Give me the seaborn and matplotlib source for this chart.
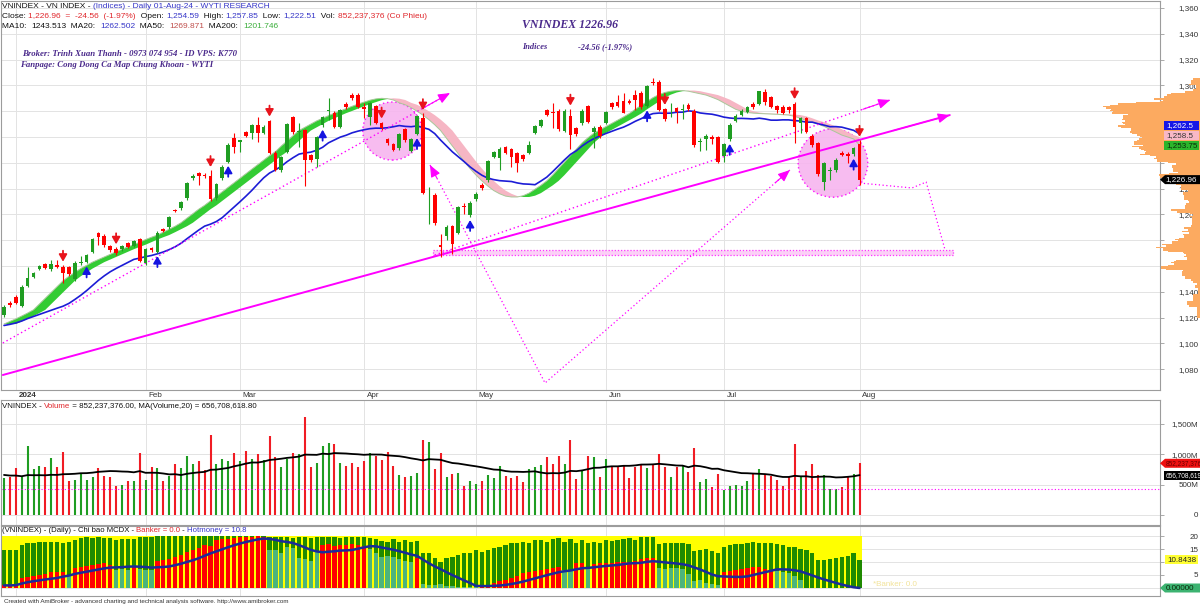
import numpy as np
import pandas as pd
import matplotlib
matplotlib.use("Agg")
import matplotlib.pyplot as plt
import seaborn as sns
from matplotlib.patches import Ellipse, Rectangle, Polygon
from matplotlib.transforms import ScaledTranslation

# ---------------------------------------------------------------- data
holidays = ["2024-01-01", "2024-02-08", "2024-02-09", "2024-02-12", "2024-02-13",
            "2024-02-14", "2024-04-18", "2024-04-29", "2024-04-30", "2024-05-01"]
dates = pd.bdate_range("2023-12-28", "2024-08-01")
dates = dates[~dates.isin(pd.to_datetime(holidays))]

open_ = [1122.0, 1131.6, 1136.2, 1129.0, 1144.5, 1151.7, 1158.0, 1161.3, 1157.4, 1160.8,
         1159.5, 1159.0, 1149.6, 1162.0, 1163.3, 1171.1, 1185.3, 1183.5, 1175.5, 1173.2,
         1172.9, 1177.6, 1175.5, 1180.7, 1162.6, 1173.7, 1171.1, 1188.4, 1189.9, 1203.3,
         1204.7, 1212.4, 1228.0, 1231.8, 1230.8, 1230.0, 1212.5, 1228.0, 1240.9, 1259.0,
         1256.5, 1264.1, 1262.9, 1269.3, 1262.9, 1272.7, 1247.9, 1234.4, 1248.6, 1275.3,
         1263.6, 1265.4, 1246.1, 1243.0, 1269.3, 1280.5, 1278.9, 1268.0, 1285.6, 1292.6,
         1292.6, 1283.0, 1275.8, 1284.0, 1271.0, 1258.2, 1254.6, 1251.2, 1266.0, 1249.4,
         1262.3, 1274.5, 1215.5, 1215.0, 1176.2, 1183.2, 1191.0, 1185.8, 1206.5, 1199.5,
         1211.6, 1222.7, 1226.6, 1244.7, 1243.4, 1251.9, 1250.4, 1247.3, 1246.0, 1247.8,
         1263.3, 1268.8, 1280.9, 1278.8, 1280.4, 1264.9, 1276.2, 1266.7, 1270.6, 1284.0,
         1264.1, 1268.0, 1271.1, 1286.0, 1287.3, 1288.1, 1288.1, 1292.5, 1294.3, 1284.0,
         1302.5, 1302.9, 1281.5, 1280.6, 1282.5, 1281.0, 1284.8, 1280.4, 1256.0, 1258.2,
         1260.3, 1259.8, 1245.3, 1258.2, 1272.7, 1277.1, 1279.6, 1285.6, 1285.6, 1295.2,
         1290.8, 1284.0, 1283.5, 1283.0, 1285.6, 1270.6, 1274.5, 1260.8, 1255.6, 1225.4,
         1233.6, 1234.4, 1247.3, 1246.5, 1246.8, 1254.59]
high_ = [1130.0, 1133.0, 1137.5, 1145.0, 1159.5, 1155.5, 1161.0, 1162.5, 1165.0, 1165.0,
         1161.0, 1160.0, 1163.5, 1167.5, 1169.5, 1182.0, 1186.5, 1184.5, 1176.5, 1174.5,
         1176.5, 1178.5, 1180.5, 1181.5, 1174.0, 1175.0, 1187.0, 1189.5, 1199.0, 1204.0,
         1210.0, 1225.0, 1231.0, 1233.0, 1232.0, 1234.4, 1224.5, 1238.0, 1255.0, 1263.4,
         1258.0, 1265.0, 1270.0, 1275.8, 1269.0, 1273.5, 1249.0, 1245.0, 1271.0, 1276.5,
         1270.6, 1266.5, 1247.0, 1260.5, 1276.0, 1290.0, 1280.0, 1282.0, 1287.0, 1294.0,
         1294.0, 1286.0, 1287.5, 1285.0, 1272.0, 1259.5, 1255.5, 1263.0, 1267.0, 1259.0,
         1277.0, 1278.5, 1221.5, 1216.5, 1184.7, 1191.5, 1192.0, 1206.5, 1208.5, 1210.5,
         1217.0, 1224.0, 1242.5, 1249.5, 1252.5, 1253.0, 1251.5, 1248.5, 1247.0, 1257.1,
         1269.5, 1274.0, 1282.0, 1286.0, 1281.5, 1281.5, 1282.0, 1268.0, 1281.5, 1285.0,
         1268.5, 1269.0, 1280.5, 1287.0, 1292.5, 1293.8, 1289.5, 1296.4, 1296.0, 1300.5,
         1305.5, 1304.0, 1282.5, 1286.1, 1283.5, 1285.6, 1286.0, 1281.5, 1259.0, 1262.0,
         1261.5, 1261.0, 1255.5, 1270.5, 1277.5, 1281.5, 1284.0, 1287.0, 1296.0, 1297.0,
         1292.0, 1285.0, 1284.5, 1284.0, 1287.0, 1275.5, 1275.5, 1262.0, 1256.5, 1240.5,
         1237.0, 1243.5, 1249.0, 1248.0, 1252.5, 1257.85]
low_ = [1120.5, 1128.5, 1130.5, 1128.0, 1143.5, 1150.5, 1157.0, 1157.5, 1156.5, 1158.5,
        1147.0, 1152.5, 1148.5, 1161.0, 1162.0, 1170.0, 1176.3, 1175.0, 1171.0, 1168.5,
        1172.0, 1174.0, 1174.5, 1163.0, 1161.0, 1171.0, 1170.0, 1186.0, 1189.0, 1201.5,
        1203.5, 1211.5, 1227.0, 1222.8, 1228.5, 1210.5, 1211.5, 1227.0, 1240.0, 1247.3,
        1248.6, 1260.0, 1258.2, 1256.4, 1262.0, 1246.5, 1233.5, 1232.8, 1247.5, 1262.5,
        1252.5, 1222.0, 1241.0, 1236.5, 1268.0, 1273.2, 1267.0, 1267.0, 1282.0, 1289.0,
        1282.5, 1274.5, 1269.3, 1270.0, 1265.5, 1254.0, 1249.0, 1250.0, 1256.5, 1248.5,
        1261.5, 1215.5, 1192.5, 1192.0, 1167.2, 1180.0, 1169.3, 1184.5, 1200.3, 1198.0,
        1210.5, 1219.0, 1225.5, 1243.5, 1234.4, 1246.5, 1237.0, 1233.1, 1241.5, 1246.5,
        1262.0, 1267.5, 1276.0, 1266.7, 1265.0, 1263.5, 1250.4, 1261.0, 1269.5, 1270.5,
        1251.2, 1259.5, 1270.0, 1282.0, 1283.0, 1278.3, 1285.5, 1281.0, 1282.0, 1283.0,
        1300.5, 1280.0, 1272.5, 1275.8, 1270.6, 1273.7, 1280.5, 1252.5, 1249.4, 1250.0,
        1254.6, 1239.6, 1240.9, 1257.0, 1271.5, 1276.0, 1278.5, 1282.0, 1284.5, 1284.5,
        1282.5, 1278.5, 1278.0, 1278.5, 1255.6, 1262.9, 1263.0, 1252.5, 1230.0, 1218.9,
        1226.7, 1233.0, 1245.0, 1240.0, 1245.5, 1222.51]
close_ = [1128.5, 1129.7, 1131.6, 1144.0, 1150.4, 1154.3, 1160.0, 1158.7, 1161.3, 1159.5,
          1154.3, 1153.8, 1162.6, 1162.8, 1168.5, 1180.9, 1182.7, 1176.3, 1172.4, 1169.8,
          1175.5, 1175.0, 1179.6, 1164.1, 1172.9, 1172.4, 1185.8, 1187.1, 1198.2, 1202.5,
          1209.3, 1224.1, 1230.0, 1230.0, 1229.5, 1211.7, 1223.6, 1237.0, 1253.8, 1252.5,
          1257.5, 1260.8, 1269.3, 1262.9, 1268.0, 1247.4, 1234.4, 1244.3, 1270.1, 1263.6,
          1264.1, 1242.2, 1242.2, 1259.8, 1275.3, 1281.2, 1268.0, 1280.9, 1283.0, 1290.0,
          1283.5, 1281.5, 1286.6, 1271.1, 1266.7, 1255.1, 1250.0, 1262.3, 1257.7, 1258.2,
          1276.3, 1216.3, 1216.2, 1193.0, 1174.4, 1190.0, 1177.0, 1205.5, 1205.5, 1209.1,
          1215.8, 1220.2, 1241.4, 1248.6, 1250.4, 1247.8, 1244.2, 1240.1, 1242.6, 1253.8,
          1268.5, 1273.0, 1277.0, 1278.3, 1266.2, 1280.4, 1261.5, 1262.3, 1280.4, 1271.8,
          1266.7, 1260.8, 1279.6, 1283.0, 1284.0, 1278.8, 1286.6, 1288.6, 1283.0, 1299.5,
          1301.5, 1280.9, 1273.7, 1281.2, 1279.6, 1281.5, 1281.5, 1253.8, 1256.6, 1260.8,
          1258.2, 1240.9, 1254.6, 1269.3, 1276.3, 1280.4, 1283.0, 1283.0, 1295.3, 1287.1,
          1283.5, 1280.6, 1278.9, 1280.6, 1268.0, 1274.9, 1264.1, 1253.8, 1231.3, 1239.75,
          1234.2, 1242.2, 1246.0, 1245.3, 1251.52, 1226.96]
# volume in millions of shares
volume_m = [605, 621, 770, 632, 1138, 754, 808, 787, 935, 787,
            1040, 566, 577, 687, 577, 632, 770, 643, 632, 478,
            495, 566, 566, 1028, 577, 787, 770, 566, 643, 841,
            770, 973, 841, 891, 742, 1320, 841, 919, 897, 1018,
            897, 1061, 924, 1006, 907, 1309, 952, 797, 924, 1028,
            1006, 1622, 787, 863, 1138, 1183, 1171, 863, 808, 863,
            797, 891, 1028, 973, 907, 1045, 808, 660, 621, 643,
            698, 1238, 1210, 754, 1028, 621, 676, 687, 478, 566,
            511, 566, 660, 605, 808, 643, 605, 643, 550, 754,
            787, 825, 952, 841, 973, 841, 1238, 594, 731, 973,
            952, 621, 924, 787, 808, 808, 605, 787, 820, 770,
            841, 1006, 787, 632, 787, 808, 715, 1100, 550, 589,
            468, 671, 412, 478, 495, 478, 566, 676, 754, 660,
            643, 574.935, 478, 632, 1171, 632, 726, 836, 660, 660,
            424, 424, 468, 621, 676, 852.237376]
# history before the first visible bar, implied by the starting level of the MA lines
warmup_close = [1112, 1110, 1114, 1112, 1122, 1126, 1128, 1130, 1127, 1124,
                1110, 1102, 1098, 1096, 1100, 1104, 1106, 1110, 1118]
warmup_volume_m = [820, 780, 850, 760, 800, 790, 830, 770, 820, 812,
                   520, 480, 510, 540, 470, 500, 530, 490, 523]
ribbon = [1115.0, 1117.0, 1119.0, 1121.2, 1123.5, 1126.0, 1130.5, 1135.0, 1139.5, 1144.0,
          1148.5, 1152.0, 1155.0, 1158.0, 1160.5, 1163.0, 1165.0, 1167.0, 1169.0, 1171.0,
          1173.0, 1174.8, 1176.5, 1178.5, 1180.5, 1182.3, 1184.0, 1186.2, 1188.5, 1190.8,
          1193.5, 1197.0, 1200.5, 1204.0, 1207.0, 1210.5, 1214.0, 1217.5, 1221.0, 1224.5,
          1228.0, 1231.5, 1235.0, 1238.5, 1242.0, 1245.5, 1248.6, 1253.0, 1257.0, 1261.0,
          1265.0, 1267.5, 1270.0, 1272.5, 1274.5, 1276.5, 1278.5, 1280.2, 1282.0, 1283.8,
          1285.5, 1287.0, 1288.5, 1289.5, 1290.0, 1289.7, 1288.7, 1286.5, 1285.0, 1282.8,
          1280.0, 1277.0, 1273.5, 1269.5, 1265.0, 1259.0, 1253.0, 1247.0, 1241.0, 1235.5,
          1230.5, 1226.0, 1222.0, 1218.5, 1216.0, 1214.2, 1213.5, 1213.5, 1214.5, 1216.5,
          1219.5, 1222.5, 1226.0, 1230.5, 1235.5, 1240.5, 1245.5, 1250.5, 1255.5, 1259.5,
          1263.0, 1265.5, 1268.0, 1270.5, 1273.0, 1275.5, 1278.2, 1281.5, 1284.5, 1287.5,
          1290.5, 1292.8, 1294.5, 1295.5, 1296.0, 1296.0, 1295.5, 1294.5, 1293.5, 1292.5,
          1290.8, 1289.0, 1286.5, 1284.0, 1281.5, 1280.0, 1279.0, 1278.5, 1278.2, 1278.0,
          1277.8, 1277.6, 1277.3, 1277.0, 1276.0, 1274.5, 1272.8, 1271.5, 1270.0, 1268.2,
          1266.0, 1263.8, 1261.5, 1260.0, 1258.5, 1253.75]
# MCDX indicator
hotmoney = [14.6, 14.6, 14.8, 16.5, 17.2, 17.4, 17.6, 17.6, 17.8, 17.8,
            17.2, 17.8, 18.5, 19.1, 19.5, 19.1, 19.7, 19.1, 19.1, 18.5,
            18.8, 18.8, 18.8, 19.8, 19.8, 19.8, 19.9, 20.0, 19.9, 20.0,
            19.9, 20.0, 20.0, 19.9, 20.0, 19.9, 20.0, 20.0, 19.9, 20.0,
            20.0, 19.9, 20.0, 20.0, 20.0, 19.6, 19.5, 19.7, 19.6, 19.4,
            19.6, 19.5, 19.4, 19.6, 19.7, 19.5, 19.6, 19.4, 19.6, 19.5,
            19.6, 19.5, 19.4, 19.0, 18.2, 17.6, 18.8, 17.8, 18.5, 17.8,
            18.0, 13.6, 13.3, 11.4, 10.1, 11.4, 12.1, 12.7, 13.3, 13.6,
            14.6, 14.0, 14.6, 15.3, 15.9, 16.5, 17.2, 17.4, 17.8, 17.4,
            18.5, 18.5, 17.8, 18.7, 19.1, 17.8, 18.7, 17.2, 18.5, 17.4,
            17.8, 17.2, 18.5, 18.2, 18.5, 18.7, 19.1, 18.5, 19.5, 19.8,
            19.8, 17.0, 17.2, 17.4, 17.2, 17.4, 17.0, 14.3, 14.6, 14.9,
            14.3, 13.3, 15.9, 16.5, 16.8, 16.8, 17.2, 17.8, 17.4, 17.2,
            17.2, 16.9, 16.5, 15.9, 15.9, 14.9, 14.6, 13.3, 10.8, 10.8,
            11.0, 11.4, 12.1, 12.3, 13.3, 10.8438]
banker = [1.0, 1.0, 1.2, 3.7, 4.2, 4.6, 5.0, 5.5, 6.0, 6.3,
          6.3, 5.0, 7.6, 8.0, 8.5, 9.0, 9.3, 9.5, 9.0, 7.0,
          7.2, 7.0, 8.3, 7.2, 7.0, 7.0, 10.3, 10.8, 11.0, 12.0,
          12.7, 13.9, 14.6, 15.2, 16.5, 16.0, 18.3, 18.8, 19.0, 19.3,
          19.5, 19.8, 19.8, 20.0, 19.8, 14.6, 14.6, 13.6, 15.9, 15.3,
          11.4, 11.0, 10.5, 14.0, 16.5, 16.8, 16.2, 16.5, 16.5, 16.8,
          16.5, 16.0, 15.0, 13.5, 12.0, 12.5, 11.8, 11.0, 10.5, 10.0,
          11.5, 1.5, 1.2, 1.0, 1.5, 0.8, 0.6, 0.5, 0.4, 0.3,
          0.3, 0.8, 1.2, 2.0, 2.6, 3.2, 4.0, 4.8, 5.6, 6.2,
          6.6, 7.0, 7.3, 7.8, 8.2, 7.0, 6.8, 9.5, 9.6, 7.5,
          9.2, 9.5, 9.8, 9.8, 9.9, 10.0, 10.0, 10.2, 11.0, 11.4,
          11.4, 7.6, 7.3, 7.8, 7.5, 7.2, 5.5, 2.5, 3.0, 2.0,
          1.5, 1.0, 6.3, 6.6, 7.0, 7.3, 7.6, 8.0, 8.2, 7.4,
          6.7, 6.5, 6.3, 5.8, 4.5, 3.0, 0, 0, 0, 0,
          0, 0, 0, 0, 0, 0]
# R = banker strengthening (red), T = banker weakening (teal)
banker_state = ("R" * 11 + "T" * 1 + "R" * 7 + "T" * 3 + "R" * 1 + "T" * 3 + "R" * 19 +
                "T" * 9 + "R" * 8 + "T" * 8 + "R" * 1 + "T" * 10 + "R" * 14 + "T" * 2 +
                "R" * 2 + "T" * 1 + "R" * 11 + "T" * 11 + "R" * 9 + "T" * 15)
sell_signals = [10, 19, 35, 45, 64, 71, 96, 112, 134, 145]
buy_signals = [14, 26, 38, 54, 70, 79, 109, 123, 144]
month_labels = ["2024", "Feb", "Mar", "Apr", "May", "Jun", "Jul", "Aug"]

# hand-drawn analysis objects (bar index, price)
trend_solid = [(-0.2, 1075.5), (160.3, 1277.0)]
trend_dotted_upper = [(-0.2, 1100.3), (75.6, 1294.1)]
trend_dotted_lower = [(73.0, 1168.5), (150.2, 1288.7)]
support_band = [(72.7, 1168.5), (160.8, 1172.5)]
projection_v = [(72.2, 1238.3), (91.7, 1069.3), (133.2, 1234.4)]
projection_right = [(145.1, 1224.3), (153.9, 1220.5), (156.3, 1225.1), (159.5, 1172.4)]
circles = [(65.8, 1264.6, 10.0, 45.0), (140.5, 1239.8, 11.8, 53.0)]

ma200_last, ma50_last = 1201.746, 1269.871
pct_change_last = -1.97   # as printed by the charting program

# ---------------------------------------------------------------- derived series
n = len(close_)
idx = np.arange(n)
o = np.array(open_); h = np.array(high_); lo = np.array(low_); c = np.array(close_)
vol = np.array(volume_m, dtype=float)
cs = pd.Series(list(warmup_close) + list(close_))
ma20 = cs.rolling(20).mean().values[len(warmup_close):]
ma10 = cs.rolling(10).mean().values[len(warmup_close):]
vs = pd.Series(list(warmup_volume_m) + list(volume_m))
vma20 = vs.rolling(20).mean().values[len(warmup_volume_m):]
bk = np.array(banker, dtype=float)
bk_ma = pd.Series(bk).rolling(10, min_periods=1).mean().values
rb = np.array(ribbon)
rb_prev = pd.Series(rb).shift(2).bfill().values
month_pos = [i for i in range(1, n) if dates[i].month != dates[i - 1].month]

# ---------------------------------------------------------------- figure
sns.set_theme(style="white")
plt.rcParams["font.family"] = ["Liberation Sans", "DejaVu Sans"]
W, H = 1200, 606
fig = plt.figure(figsize=(W / 100, H / 100), dpi=100)
fig.patch.set_facecolor("white")

def fx(x): return x / W
def fy(y): return 1 - y / H
def rect(top, bottom, left=1, right=1160):
    return [left / W, 1 - bottom / H, (right - left) / W, (bottom - top) / H]

ax = fig.add_axes(rect(1, 390))
axv = fig.add_axes(rect(400, 525))
axm = fig.add_axes(rect(526, 596))
XLIM = (-0.51, 195.93)
GRID = "#e3e3e3"
SPINE = "#9c9c9c"
TICKC = "#333333"

for a in (ax, axv, axm):
    a.set_xlim(*XLIM)
    a.set_facecolor("white")
    for s in a.spines.values():
        s.set_color(SPINE); s.set_linewidth(0.8)
    a.yaxis.tick_right()
    a.tick_params(axis="y", direction="out", length=3, width=0.6, color=SPINE,
                  labelsize=5.8, labelcolor=TICKC, pad=24.5)
    for mp in month_pos:
        a.axvline(mp, color=GRID, lw=0.7, zorder=0)

# ----- main price panel
ax.set_ylim(1063.87, 1365.43)
yt = np.arange(1080, 1361, 20)
ax.set_yticks(yt)
ax.set_yticklabels(["" if v == 1260 else f"{v:,.0f}" for v in yt])
for v in yt:
    ax.axhline(v, color=GRID, lw=0.7, zorder=0)
ax.set_xticks(month_pos)
ax.set_xticklabels(month_labels)
ax.tick_params(axis="x", length=0, pad=1.2, labelsize=5.8, labelcolor=TICKC)
for lab in ax.get_xticklabels():
    lab.set_ha("left")
    lab.set_transform(lab.get_transform() + ScaledTranslation(2 / 72, 0, fig.dpi_scale_trans))
ax.get_xticklabels()[0].set_fontweight("bold")

ppx = (1365.43 - 1063.87) / 389.0   # price units per pixel

# pink circles and support band
for cx, cy, cw, ch in circles:
    ax.add_patch(Ellipse((cx, cy), cw, ch, facecolor="#f7b5ef", edgecolor="#ff00ff",
                         linestyle=(0, (1, 2)), lw=1.0, alpha=0.9, zorder=1.5))
(bx0, by0), (bx1, by1) = support_band
ax.add_patch(Rectangle((bx0, by0), bx1 - bx0, by1 - by0, facecolor="#fbd0f6",
                       edgecolor="#ff33ff", linestyle=(0, (1, 1.5)), lw=0.9, zorder=1.4))

# ribbon
ax.fill_between(idx, rb, rb_prev, where=rb >= rb_prev, interpolate=True,
                color="#33cc33", lw=0, zorder=2)
ax.fill_between(idx, rb, rb_prev, where=rb < rb_prev, interpolate=True,
                color="#f6b6c4", lw=0, zorder=2)
ax.plot(idx, rb, color="#a9c79a", lw=0.7, zorder=2.1)

# MA20
sns.lineplot(x=idx, y=ma20, ax=ax, color="#1c1cd6", linewidth=1.2, legend=False, zorder=3)

# trend lines
MAG = "#ff00ff"
def seg(points, ls, lw, head_end=True, head_start=False):
    xs = [p[0] for p in points]; ys = [p[1] for p in points]
    ax.plot(xs, ys, color=MAG, ls=ls, lw=lw, zorder=3.2)
    heads = []
    if head_end: heads.append((points[-2], points[-1]))
    if head_start: heads.append((points[1], points[0]))
    for p0, p1 in heads:
        frac = 0.06
        start = (p1[0] - (p1[0] - p0[0]) * frac, p1[1] - (p1[1] - p0[1]) * frac)
        ax.annotate("", xy=p1, xytext=start,
                    arrowprops=dict(arrowstyle="-|>,head_width=0.25,head_length=0.6",
                                    color=MAG, lw=0.8, shrinkA=0, shrinkB=0), zorder=3.3)

seg(trend_solid, "-", 1.4)
seg(trend_dotted_upper, (0, (1, 2)), 1.0)
seg(trend_dotted_lower, (0, (1, 2)), 1.0)
seg(projection_v, (0, (1, 2)), 0.9, head_end=True, head_start=True)
seg(projection_right, (0, (1, 2)), 0.9, head_end=False)

# candles
GREEN, RED = "#1f9d22", "#ff0000"
for i in range(n):
    col = GREEN if c[i] >= o[i] else RED
    ax.vlines(i, lo[i], h[i], color=col, lw=0.8, zorder=4)
    bot = min(o[i], c[i]); ht = max(abs(c[i] - o[i]), 0.7)
    ax.bar(i, ht, bottom=bot, width=0.64, color=col, lw=0, zorder=4.1)

ARW = "-|>,head_width=0.2,head_length=0.35"
for i in sell_signals:
    ax.annotate("", xy=(i, h[i] + 3 * ppx), xytext=(i, h[i] + 14 * ppx),
                arrowprops=dict(arrowstyle=ARW, color="#e8141c", lw=1.3, shrinkA=0, shrinkB=0), zorder=5)
for i in buy_signals:
    ax.annotate("", xy=(i, lo[i] - 3 * ppx), xytext=(i, lo[i] - 14 * ppx),
                arrowprops=dict(arrowstyle=ARW, color="#1414e0", lw=1.3, shrinkA=0, shrinkB=0), zorder=5)

# volume-at-price profile anchored at the right edge of the picture
axp = fig.add_axes([1100 / W, 1 - 390 / H, 100 / W, 389 / H], zorder=5)
axp.set_ylim(1063.87, 1365.43)
axp.set_xlim(100, 0)
axp.axis("off")
axp.patch.set_alpha(0)
edges = np.arange(1100, 1320.5, 1.0)
centers = (edges[:-1] + edges[1:]) / 2
prof = np.zeros(len(centers))
for i in range(n):
    m = (centers >= lo[i]) & (centers <= h[i])
    if m.sum():
        prof[m] += vol[i] / m.sum()
prof = prof / prof.max() * 97
axp.fill_betweenx(centers, 0, prof, step="mid", color="#fcaa60", lw=0)

# ----- volume panel
VLIM = (-164.8, 1895)
axv.set_ylim(*VLIM)
vt = [0, 500, 1000, 1500]
axv.set_yticks(vt)
axv.set_yticklabels(["0", "500M", "1,000M", "1,500M"])
axv.set_xticks([])
for v in vt:
    axv.axhline(v, color=GRID, lw=0.7, zorder=0)
vcol = [GREEN if c[i] >= o[i] else "#f01c24" for i in range(n)]
axv.vlines(idx, 0, vol, colors=vcol, lw=1.5, zorder=2)
sns.lineplot(x=idx, y=vma20, ax=axv, color="black", linewidth=1.3, legend=False, zorder=3)
axv.axhline(430, color=MAG, ls=(0, (1, 2)), lw=0.8, zorder=2.5)

# ----- MCDX panel
axm.set_ylim(-3.08, 23.85)
mt = [0, 5, 10, 15, 20]
axm.set_yticks(mt)
axm.set_yticklabels(["", "5", "", "15", "20"])
axm.set_xticks([])
for v in mt:
    axm.axhline(v, color=GRID, lw=0.7, zorder=0)
axm.bar(idx, 20, width=1.0, color="#ffff00", lw=0, zorder=1)
axm.bar(idx, hotmoney, width=0.74, color="#1f8a00", lw=0, zorder=2)
bcol = ["#ff0000" if s == "R" else "#4cb47c" for s in banker_state]
axm.bar(idx, bk, width=0.74, color=bcol, lw=0, zorder=3)
sns.lineplot(x=idx, y=bk_ma, ax=axm, color="#1a2a9a", linewidth=1.8, legend=False, zorder=4)

for a in (ax, axv, axm):
    for lab in a.get_yticklabels():
        lab.set_ha("right")

# ---------------------------------------------------------------- texts
renderer = fig.canvas.get_renderer()
def twidth(s, **kw):
    t = fig.text(0, 0, s + ".", **kw); w1 = t.get_window_extent(renderer).width; t.remove()
    t = fig.text(0, 0, ".", **kw); w0 = t.get_window_extent(renderer).width; t.remove()
    return w1 - w0

def rich(x, y, pieces, size, family=("Liberation Sans", "DejaVu Sans"), **kw):
    for s, col in pieces:
        props = dict(fontsize=size, family=list(family), **kw)
        fig.text(fx(x), fy(y), s, color=col, va="center", ha="left", zorder=30, **props)
        x += twidth(s, **props)

BLK, BLU, REDT = "#111111", "#3636c8", "#e0282d"
HS = 6.0
rich(2, 6, [("VNINDEX - VN INDEX - ", BLK), ("(Indices) - Daily 01-Aug-24 - WYTI RESEARCH", BLU)], HS)
chg = c[-1] - c[-2]
rich(2, 16, [("Close: ", BLK), (f"{c[-1]:,.2f}  =  {chg:,.2f}  ({pct_change_last:.2f}%)", REDT),
             ("  Open: ", BLK), (f"{o[-1]:,.2f}", BLU), ("  High: ", BLK), (f"{h[-1]:,.2f}", BLU),
             ("  Low: ", BLK), (f"{lo[-1]:,.2f}", BLU), ("  Vol: ", BLK),
             (f"{vol[-1] * 1e6:,.0f} (Co Phieu)", REDT)], HS)
rich(2, 26, [("MA10:  ", BLK), (f"{ma10[-1]:.3f}", BLK), ("  MA20:  ", BLK), (f"{ma20[-1]:.3f}", BLU),
             ("  MA50:  ", BLK), (f"{ma50_last:.3f}", "#c0504d"), ("  MA200:  ", BLK),
             (f"{ma200_last:.3f}", "#3cae3c")], HS)

PURP = "#4b2a8c"
serif = ["Liberation Serif", "DejaVu Serif"]
fig.text(fx(22), fy(54), "Broker: Trinh Xuan Thanh - 0973 074 954 - ID VPS: K770", color=PURP,
         fontsize=6.3, family=serif, weight="bold", style="italic", va="center", zorder=30)
fig.text(fx(20), fy(65), "Fanpage: Cong Dong Ca Map Chung Khoan - WYTI", color=PURP,
         fontsize=6.3, family=serif, weight="bold", style="italic", va="center", zorder=30)
fig.text(fx(522), fy(25), f"VNINDEX {c[-1]:.2f}", color=PURP, fontsize=8.6, family=serif,
         weight="bold", style="italic", va="center", zorder=30)
fig.text(fx(522), fy(47), "Indices", color=PURP, fontsize=6.0, family=serif,
         weight="bold", style="italic", va="center", zorder=30)
fig.text(fx(578), fy(47), f"{chg:.2f} ({pct_change_last:.2f}%)", color=PURP, fontsize=6.0,
         family=serif, weight="bold", style="italic", va="center", zorder=30)

rich(2, 406, [("VNINDEX - ", BLK), ("Volume", REDT),
              (f" = {vol[-1] * 1e6:,.2f}, MA(Volume,20) = {vma20[-1] * 1e6:,.2f}", BLK)], 5.7)
rich(2, 530, [("(VNINDEX) - (Daily) - Chi bao MCDX - ", BLK), (f"Banker = {bk[-1]:.1f}", REDT),
              (" - ", BLK), (f"Hotmoney = {hotmoney[-1]:.1f}", BLU)], 5.6)
fig.text(fx(873), fy(585), f"*Banker: {bk[-1]:.1f}", color="#f2e39a", fontsize=5.8,
         va="center", zorder=30)
fig.text(fx(4), fy(601), "Created with AmiBroker - advanced charting and technical analysis "
         "software. http://www.amibroker.com", color="#333333", fontsize=4.5, va="center", zorder=30)

# ---------------------------------------------------------------- value tags on the right axis
def ypx(a, v):
    return H - a.transData.transform((0, v))[1]

def tag(x0, x1, yc, text, fc, tc, arrow=False, hgt=9, size=5.8):
    if arrow:
        pts = [(x0, yc), (x0 + 5, yc - hgt / 2), (x1, yc - hgt / 2), (x1, yc + hgt / 2), (x0 + 5, yc + hgt / 2)]
    else:
        pts = [(x0, yc - hgt / 2), (x1, yc - hgt / 2), (x1, yc + hgt / 2), (x0, yc + hgt / 2)]
    fig.add_artist(Polygon([(fx(a), fy(b)) for a, b in pts], closed=True, transform=fig.transFigure,
                           facecolor=fc, edgecolor="none", zorder=20))
    fig.text(fx(x0 + (5.5 if arrow else 2)), fy(yc + 0.3), text, color=tc, fontsize=size,
             va="center", ha="left", zorder=21)

def fmt(v):
    s = f"{v:,.2f}"
    return s.rstrip("0").rstrip(".") if "." in s else s

stack = [(rb[-1], "#2bb52b", "#0a2a0a"), (rb[-2], "#f8b8c6", "#333333"), (ma20[-1], "#1616e6", "white")]
prev = None
for val, fc, tc in stack:
    y = ypx(ax, val)
    if prev is not None:
        y = min(y, prev - 10)
    tag(1164, 1199, y, fmt(val), fc, tc)
    prev = y
tag(1160, 1200, ypx(ax, c[-1]), f"{c[-1]:,.2f}", "black", "white", arrow=True)
tag(1160, 1200, ypx(axv, vol[-1]), f"{vol[-1] * 1e6:,.0f}", "#ee1111", "#6a0000", arrow=True, size=4.7)
tag(1164, 1200, ypx(axv, vma20[-1]), f"{vma20[-1] * 1e6:,.0f}", "black", "white", size=4.7)
tag(1165, 1198, ypx(axm, hotmoney[-1]), f"{hotmoney[-1]:.4f}", "#ffff33", "#222222")
tag(1160, 1200, ypx(axm, bk_ma[-1]), f"{bk_ma[-1]:.5f}", "#3cb371", "#0a2a0a", arrow=True)

fig.savefig("out.png", dpi=100, facecolor="white")
